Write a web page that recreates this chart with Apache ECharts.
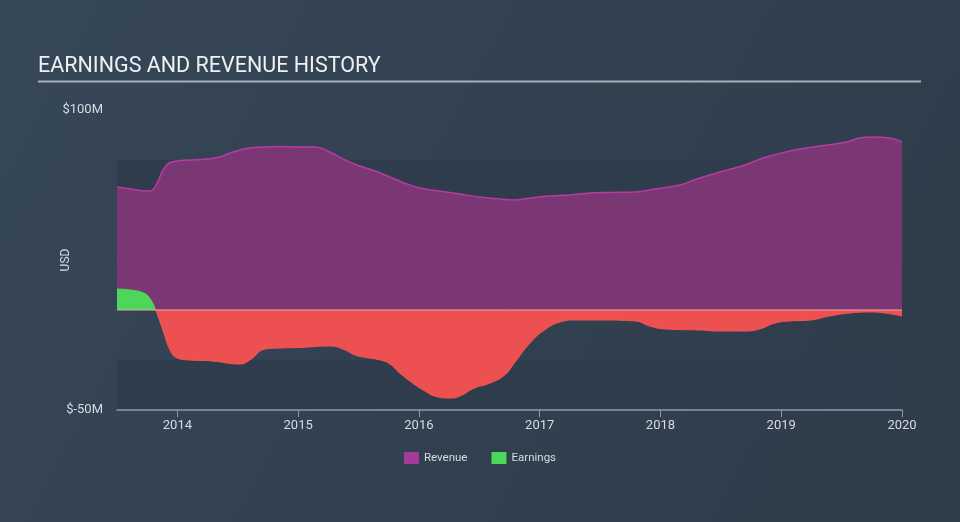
<!DOCTYPE html>
<html>
<head>
<meta charset="utf-8">
<script src="https://cdn.jsdelivr.net/npm/echarts@6/dist/echarts.min.js"></script>
<style>html,body{margin:0;padding:0;}#c{width:960px;height:522px;}</style>
</head>
<body>
<div id="c"></div>
<script>
var yearTicks = [2014, 2015, 2016, 2017, 2018, 2019, 2020];
var revenueYears = [2013.50,2013.61,2013.76,2013.81,2013.91,2014.00,2014.10,2014.245,2014.35,2014.46,2014.60,2014.73,2014.85,2015.01,2015.14,2015.26,2015.39,2015.51,2015.64,2015.76,2015.88,2016.01,2016.17,2016.34,2016.50,2016.67,2016.79,2016.92,2017.08,2017.25,2017.42,2017.58,2017.79,2017.95,2018.16,2018.30,2018.49,2018.70,2018.85,2019.07,2019.26,2019.54,2019.65,2019.75,2019.90,2020.00];
var revenueValues = [61.5,60.5,59.5,61,72.5,74.5,75,75.5,76.5,79,81,81.5,81.75,81.5,81.5,79,75,72,69.5,66.5,63.5,61,59.5,58,56.5,55.5,55,56,57,57.5,58.5,58.75,59,60.5,62.5,65.5,69,72.5,76,79.5,81.5,84,86,86.5,86,84];
var earningsYears = [2013.50,2013.61,2013.72,2013.77,2013.82,2013.88,2013.94,2014.00,2014.10,2014.29,2014.52,2014.60,2014.73,2014.85,2015.01,2015.26,2015.39,2015.47,2015.59,2015.68,2015.76,2015.84,2015.97,2016.05,2016.13,2016.26,2016.34,2016.46,2016.59,2016.71,2016.79,2016.92,2017.04,2017.17,2017.29,2017.50,2017.79,2017.91,2018.04,2018.33,2018.49,2018.70,2018.82,2018.95,2019.07,2019.24,2019.40,2019.57,2019.73,2019.86,2020.00];
var earningsValues = [10.5,10,8.5,6,0,-10,-20,-24,-25,-25.5,-27,-25,-19.5,-19,-18.75,-18,-20,-22.5,-24,-25,-27,-31.5,-37.5,-40.5,-43,-44,-43,-39,-36.5,-32.5,-26.5,-16.5,-10,-6,-5,-5,-5.5,-8,-9.5,-10,-10.5,-10.5,-9.5,-6.5,-5.5,-5,-3,-1.5,-1,-1.5,-3];
var zeroLine = [[2013.5, 0], [2020, 0]];
var yLabels = {'100': '$100M', '-50': '$-50M'};

function pairs(xs, ys) { return xs.map(function (x, i) { return [x, ys[i]]; }); }

// green above the zero line, red below (global pixel gradient over the grid height)
var zeroOffset = 200 / 300;
function splitGrad(top, bottom) {
  return new echarts.graphic.LinearGradient(0, 110, 0, 410, [
    {offset: 0, color: top}, {offset: zeroOffset, color: top},
    {offset: zeroOffset, color: bottom}, {offset: 1, color: bottom}
  ], true);
}

var chart = echarts.init(document.getElementById('c'), null, {renderer: 'canvas'});
chart.setOption({
  backgroundColor: {
    type: 'linear', x: 0, y: 0, x2: 1, y2: 1,
    colorStops: [{offset: 0, color: '#364758'}, {offset: 1, color: '#2e3b49'}]
  },
  textStyle: {fontFamily: 'Roboto'},
  graphic: [
    {type: 'text', left: 38, top: 56, style: {text: 'EARNINGS AND REVENUE HISTORY', fill: '#eef0f2', font: '21.5px Roboto'}},
    {type: 'line', shape: {x1: 38, y1: 81.5, x2: 921, y2: 81.5}, style: {stroke: '#a9b0b8', lineWidth: 2}}
  ],
  grid: {left: 117, right: 58, top: 110, bottom: 112},
  legend: {
    left: 'center', top: 447, itemWidth: 15, itemHeight: 12, itemGap: 24,
    icon: 'rect',
    textStyle: {color: '#d6dce2', fontSize: 11.5, fontFamily: 'Roboto'},
    data: [
      {name: 'Revenue', itemStyle: {color: '#a33b98'}},
      {name: 'Earnings', itemStyle: {color: '#4cd65a'}}
    ]
  },
  xAxis: {
    type: 'value', min: 2013.5, max: 2020, interval: 0.5,
    axisLine: {show: true, onZero: false, lineStyle: {color: '#8e9bab', width: 1.5}},
    axisTick: {show: true, length: 7, customValues: yearTicks, lineStyle: {color: '#8e9bab'}},
    axisLabel: {customValues: yearTicks, color: '#d6dce2', fontSize: 13, margin: 9, formatter: function (v) { return String(Math.round(v)); }},
    splitLine: {show: false}
  },
  yAxis: {
    type: 'value', min: -50, max: 100, interval: 25,
    name: 'USD', nameLocation: 'middle', nameRotate: 90, nameGap: 45,
    nameMoveOverlap: false,
    nameTextStyle: {color: '#d6dce2', fontSize: 12},
    axisLine: {show: false}, axisTick: {show: false},
    axisLabel: {color: '#d6dce2', fontSize: 13, margin: 14, formatter: function (v) { return yLabels[String(v)] || ''; }},
    splitLine: {show: false},
    splitArea: {show: true, areaStyle: {color: ['#2f3c4b', 'rgba(0,0,0,0)']}}
  },
  series: [
    {
      name: 'Revenue', type: 'line', smooth: 0.5, showSymbol: false,
      data: pairs(revenueYears, revenueValues),
      itemStyle: {color: '#a33b98'},
      lineStyle: {color: '#b63ba3', width: 1.5},
      areaStyle: {color: '#7b3774', opacity: 1}
    },
    {
      name: 'Earnings', type: 'line', smooth: 0.5, showSymbol: false,
      data: pairs(earningsYears, earningsValues),
      itemStyle: {color: '#4cd65a'},
      lineStyle: {width: 1, color: splitGrad('#4cd65a', '#f45454')},
      areaStyle: {opacity: 1, color: splitGrad('#4cd65a', '#ec5050')}
    },
    {
      name: 'zero', type: 'line', showSymbol: false, silent: true,
      data: zeroLine,
      lineStyle: {color: '#f4a3a3', width: 1},
      z: 3
    }
  ]
});
</script>
</body>
</html>
